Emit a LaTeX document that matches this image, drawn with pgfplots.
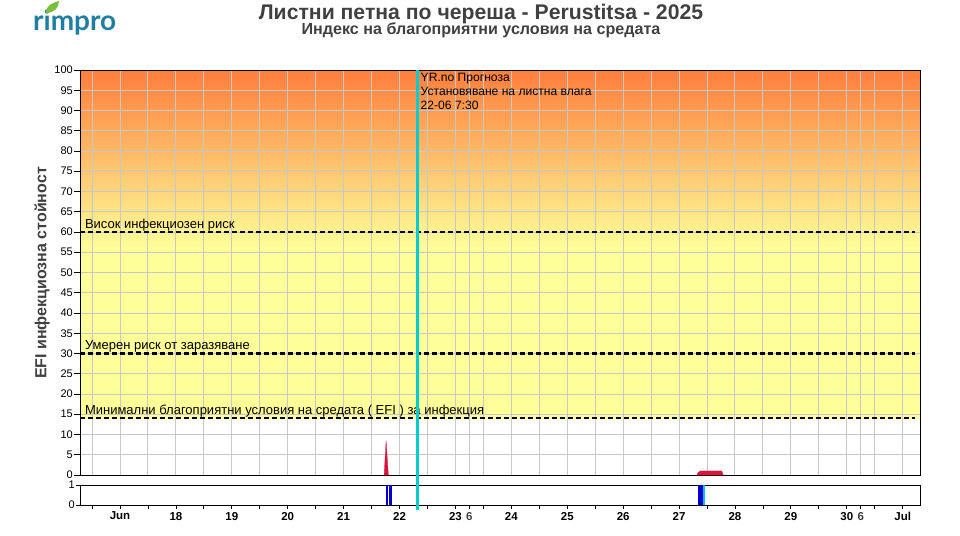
\documentclass[border=0pt]{standalone}
\usepackage{fontspec}
\setmainfont{Liberation Sans}
\usepackage{pgfplots}
\pgfplotsset{compat=1.18}
\definecolor{gridgray}{RGB}{200,200,200}
\definecolor{titlegray}{RGB}{64,64,64}
\definecolor{topor}{RGB}{255,126,60}
\definecolor{paleyel}{RGB}{255,255,153}
\definecolor{crim}{RGB}{220,20,60}
\definecolor{dblue}{RGB}{0,0,205}
\definecolor{lblue}{RGB}{0,191,255}
\definecolor{cyanl}{RGB}{0,206,209}
\definecolor{logoblue}{RGB}{33,126,163}
\definecolor{leaf}{RGB}{124,190,62}
\newfontfamily\logofont{Lato}
% background zones of the EFI axis: white below 14, yellow to 56, orange at 100
\pgfdeclareverticalshading{efi}{100bp}{color(0bp)=(white); color(31.95bp)=(white); color(32bp)=(paleyel); color(53bp)=(paleyel); color(75bp)=(topor); color(100bp)=(topor)}

\begin{document}
\begin{tikzpicture}
\path[use as bounding box] (0pt,0pt) rectangle (960pt,-535pt);

% titles
\node[font=\fontsize{21.2}{24}\selectfont\bfseries, text=titlegray] at (481pt,-14pt) {Листни петна по череша - Perustitsa - 2025};
\node[font=\fontsize{16.1}{18}\selectfont\bfseries, text=titlegray] at (481pt,-30.5pt) {Индекс на благоприятни условия на средата};

% logo
\node[font=\logofont\fontsize{28}{30}\selectfont\bfseries, text=logoblue, anchor=base west, inner sep=0] at (33pt,-31pt) {rimpro};
\fill[leaf] (46pt,-13pt) .. controls (46pt,-5pt) and (52pt,-3pt) .. (59pt,-1pt) .. controls (59pt,-8pt) and (54pt,-13pt) .. (46pt,-13pt) -- cycle;

% y label
\node[rotate=90, font=\fontsize{16}{18}\selectfont\bfseries, text=titlegray] at (42pt,-273pt) {EFI инфекциозна стойност};

% lower strip: leaf wetness
\begin{axis}[
  at={(80pt,-505pt)}, anchor=south west,
  scale only axis, width=840pt, height=20pt,
  xmin=16.284, xmax=31.31, ymin=0, ymax=1,
  ytick={0,1},
  xtick={17,...,31},
  xticklabels={Jun,18,19,20,21,22,23,24,25,26,27,28,29,30,Jul},
  minor xtick={16.5,17.5,18.5,19.5,20.5,21.5,22.5,23.5,24.5,25.5,26.5,27.5,28.5,29.5,30.5},
  extra x ticks={23.25,30.25},
  extra x tick labels={6,6},
  extra x tick style={tick label style={font=\fontsize{11.5}{13}\selectfont\mdseries, text=titlegray}},
  tick align=outside, xtick pos=bottom, ytick pos=left,
  major tick length=4pt, minor tick length=4pt,
  tick style={black, line width=0.8pt},
  axis line style={black, line width=1pt},
  x tick label style={font=\fontsize{11.5}{13}\selectfont\bfseries, yshift=0.5pt},
  y tick label style={font=\fontsize{11}{13}\selectfont, inner sep=1pt},
  /pgf/number format/assume math mode=true,
]
\addplot[fill=dblue, draw=none] coordinates {(21.749,0) (21.749,1) (21.790,1) (21.790,0)} -- cycle;
\addplot[fill=dblue, draw=none] coordinates {(21.815,0) (21.815,1) (21.863,1) (21.863,0)} -- cycle;
\addplot[fill=dblue, draw=none] coordinates {(27.334,0) (27.334,1) (27.424,1) (27.424,0)} -- cycle;
\addplot[fill=lblue, draw=none] coordinates {(27.424,0) (27.424,1) (27.459,1) (27.459,0)} -- cycle;
\end{axis}

% main axis
\begin{axis}[
  at={(80pt,-475pt)}, anchor=south west,
  scale only axis, width=840pt, height=405pt,
  xmin=16.284, xmax=31.31, ymin=0, ymax=100,
  axis background/.style={shading=efi},
  ytick={0,5,...,100},
  xtick={16.5,17,17.5,18,18.5,19,19.5,20,20.5,21,21.5,22,22.5,23,23.25,23.5,24,24.5,25,25.5,26,26.5,27,27.5,28,28.5,29,29.5,30,30.25,30.5,31},
  xticklabels={},
  major x tick style={draw=none},
  grid=major, grid style={gridgray, line width=1pt},
  tick align=outside, ytick pos=left,
  major tick length=6pt,
  tick style={black, line width=0.8pt},
  axis line style={black, line width=1pt},
  y tick label style={font=\fontsize{11}{13}\selectfont, inner sep=1pt},
  /pgf/number format/assume math mode=true,
  clip=false,
]
% risk thresholds
\addplot[black, line width=2.1pt, dash pattern=on 4.5pt off 3.5pt] coordinates {(16.284,60) (31.22,60)};
\addplot[black, line width=2.1pt, dash pattern=on 4.5pt off 3.5pt] coordinates {(16.284,30) (31.22,30)};
\addplot[black, line width=2.1pt, dash pattern=on 4.5pt off 3.5pt] coordinates {(16.284,14) (31.22,14)};
\node[anchor=base west, inner sep=0, font=\fontsize{13}{15}\selectfont] at (axis cs:16.37,60.9) {Висок инфекциозен риск};
\node[anchor=base west, inner sep=0, font=\fontsize{13}{15}\selectfont] at (axis cs:16.37,30.9) {Умерен риск от заразяване};
\node[anchor=base west, inner sep=0, font=\fontsize{13}{15}\selectfont] at (axis cs:16.37,14.9) {Минимални благоприятни условия на средата ( EFI ) за инфекция};

% EFI series
\addplot[fill=crim, draw=crim, line width=0.3pt] coordinates {(21.724,0) (21.760,8.4) (21.800,0)} -- cycle;
\addplot[fill=crim, draw=crim, line width=0.3pt] coordinates {(27.322,0) (27.340,0.6) (27.383,1.0) (27.764,1.0) (27.790,0)} -- cycle;

% forecast start
\addplot[cyanl, line width=3pt] coordinates {(22.3125,100) (22.3125,-8.6)};
\node[anchor=north west, align=left, inner sep=0, font=\fontsize{12.1}{14}\selectfont] at (axis cs:22.375,99.3) {YR.no Прогноза\\Установяване на листна влага\\22-06 7:30};
\end{axis}
\end{tikzpicture}
\end{document}
